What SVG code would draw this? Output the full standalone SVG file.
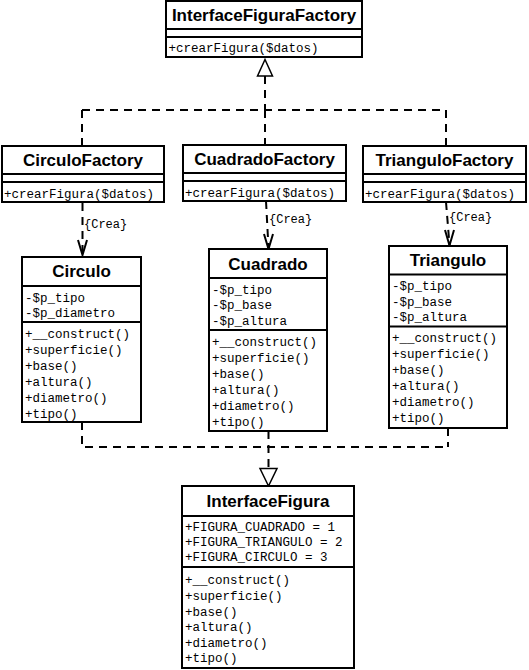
<svg xmlns="http://www.w3.org/2000/svg" width="529" height="670" viewBox="0 0 529 670">
<style>
.box{fill:#fff;stroke:#000;stroke-width:2}
.sep{stroke:#000;stroke-width:2}
.t{font-family:"Liberation Sans",Arial,sans-serif;font-weight:bold;font-size:17px;text-anchor:middle;fill:#000}
.m{font-family:"Liberation Mono","Courier New",monospace;font-size:12.5px;fill:#000}
.dash{fill:none;stroke:#000;stroke-width:2;stroke-dasharray:8,6}
.head{fill:#fff;stroke:#000;stroke-width:1.5}
.open{fill:none;stroke:#000;stroke-width:2}
.lbl{font-family:"Liberation Mono","Courier New",monospace;font-size:12px;fill:#000}
</style>
<rect width="529" height="670" fill="#fff"/>
<g id="connectors">
  <path class="dash" d="M265,76 V110 M82,110 H446 M82,110 V146 M265,110 V145 M446,110 V146"/>
  <polygon class="head" points="265,59.5 257.5,76 272.5,76"/>
  <path class="dash" d="M82.5,203 V254"/>
  <path class="open" d="M78,240 L82.5,255 L87,240"/>
  <text class="lbl" x="84" y="228">{Crea}</text>
  <path class="dash" d="M266,201 L268.5,248"/>
  <path class="open" d="M264,234 L268.5,249 L273,234"/>
  <text class="lbl" x="269" y="223">{Crea}</text>
  <path class="dash" d="M446,202 L449.5,245"/>
  <path class="open" d="M445,230 L449.5,245.5 L454,230"/>
  <text class="lbl" x="449" y="221">{Crea}</text>
  <path class="dash" d="M82,422 V447 H448 M268.5,431 V468 M448,428 V447"/>
  <polygon class="head" points="268.5,486 260,468.5 277,468.5"/>
</g>
<g id="InterfaceFiguraFactory">
  <rect class="box" x="166" y="1" width="196" height="56"/>
  <line class="sep" x1="166" y1="29" x2="362" y2="29"/>
  <line class="sep" x1="166" y1="37" x2="362" y2="37"/>
  <text class="t" x="264" y="21">InterfaceFiguraFactory</text>
  <text class="m" x="168.5" y="52">+crearFigura($datos)</text>
</g>
<g id="CirculoFactory">
  <rect class="box" x="2" y="146" width="162" height="56"/>
  <line class="sep" x1="2" y1="174" x2="164" y2="174"/>
  <line class="sep" x1="2" y1="182" x2="164" y2="182"/>
  <text class="t" x="83" y="166">CirculoFactory</text>
  <text class="m" x="4" y="197.5">+crearFigura($datos)</text>
</g>
<g id="CuadradoFactory">
  <rect class="box" x="183" y="145" width="163" height="56"/>
  <line class="sep" x1="183" y1="173" x2="346" y2="173"/>
  <line class="sep" x1="183" y1="181" x2="346" y2="181"/>
  <text class="t" x="264.5" y="165">CuadradoFactory</text>
  <text class="m" x="185" y="196.5">+crearFigura($datos)</text>
</g>
<g id="TrianguloFactory">
  <rect class="box" x="363" y="146" width="163" height="56"/>
  <line class="sep" x1="363" y1="174" x2="526" y2="174"/>
  <line class="sep" x1="363" y1="182" x2="526" y2="182"/>
  <text class="t" x="444.5" y="166">TrianguloFactory</text>
  <text class="m" x="365" y="197.5">+crearFigura($datos)</text>
</g>
<g id="Circulo">
  <rect class="box" x="22" y="257" width="119" height="165"/>
  <line class="sep" x1="22" y1="286" x2="141" y2="286"/>
  <line class="sep" x1="22" y1="322" x2="141" y2="322"/>
  <text class="t" x="81.5" y="277">Circulo</text>
  <text class="m" x="25" y="302">-$p_tipo</text>
  <text class="m" x="25" y="317">-$p_diametro</text>
  <text class="m" x="25" y="338">+__construct()</text>
  <text class="m" x="25" y="354">+superficie()</text>
  <text class="m" x="25" y="370">+base()</text>
  <text class="m" x="25" y="386">+altura()</text>
  <text class="m" x="25" y="402">+diametro()</text>
  <text class="m" x="25" y="418">+tipo()</text>
</g>
<g id="Cuadrado">
  <rect class="box" x="209" y="249" width="118" height="182"/>
  <line class="sep" x1="209" y1="278" x2="327" y2="278"/>
  <line class="sep" x1="209" y1="330" x2="327" y2="330"/>
  <text class="t" x="268" y="270">Cuadrado</text>
  <text class="m" x="212" y="293.5">-$p_tipo</text>
  <text class="m" x="212" y="309">-$p_base</text>
  <text class="m" x="212" y="324.5">-$p_altura</text>
  <text class="m" x="212" y="345.5">+__construct()</text>
  <text class="m" x="212" y="361.5">+superficie()</text>
  <text class="m" x="212" y="377.5">+base()</text>
  <text class="m" x="212" y="393.5">+altura()</text>
  <text class="m" x="212" y="409.5">+diametro()</text>
  <text class="m" x="212" y="425.5">+tipo()</text>
</g>
<g id="Triangulo">
  <rect class="box" x="389" y="246" width="118" height="182"/>
  <line class="sep" x1="389" y1="274.5" x2="507" y2="274.5"/>
  <line class="sep" x1="389" y1="326.5" x2="507" y2="326.5"/>
  <text class="t" x="448" y="266">Triangulo</text>
  <text class="m" x="392" y="290">-$p_tipo</text>
  <text class="m" x="392" y="305.5">-$p_base</text>
  <text class="m" x="392" y="321">-$p_altura</text>
  <text class="m" x="392" y="342">+__construct()</text>
  <text class="m" x="392" y="358">+superficie()</text>
  <text class="m" x="392" y="374">+base()</text>
  <text class="m" x="392" y="390">+altura()</text>
  <text class="m" x="392" y="406">+diametro()</text>
  <text class="m" x="392" y="422">+tipo()</text>
</g>
<g id="InterfaceFigura">
  <rect class="box" x="182" y="486" width="172" height="182"/>
  <line class="sep" x1="182" y1="516" x2="354" y2="516"/>
  <line class="sep" x1="182" y1="567" x2="354" y2="567"/>
  <text class="t" x="268" y="507">InterfaceFigura</text>
  <text class="m" x="185" y="531">+FIGURA_CUADRADO = 1</text>
  <text class="m" x="185" y="546">+FIGURA_TRIANGULO = 2</text>
  <text class="m" x="185" y="561">+FIGURA_CIRCULO = 3</text>
  <text class="m" x="185" y="584">+__construct()</text>
  <text class="m" x="185" y="600">+superficie()</text>
  <text class="m" x="185" y="615.5">+base()</text>
  <text class="m" x="185" y="631">+altura()</text>
  <text class="m" x="185" y="646.5">+diametro()</text>
  <text class="m" x="185" y="662">+tipo()</text>
</g>
</svg>
